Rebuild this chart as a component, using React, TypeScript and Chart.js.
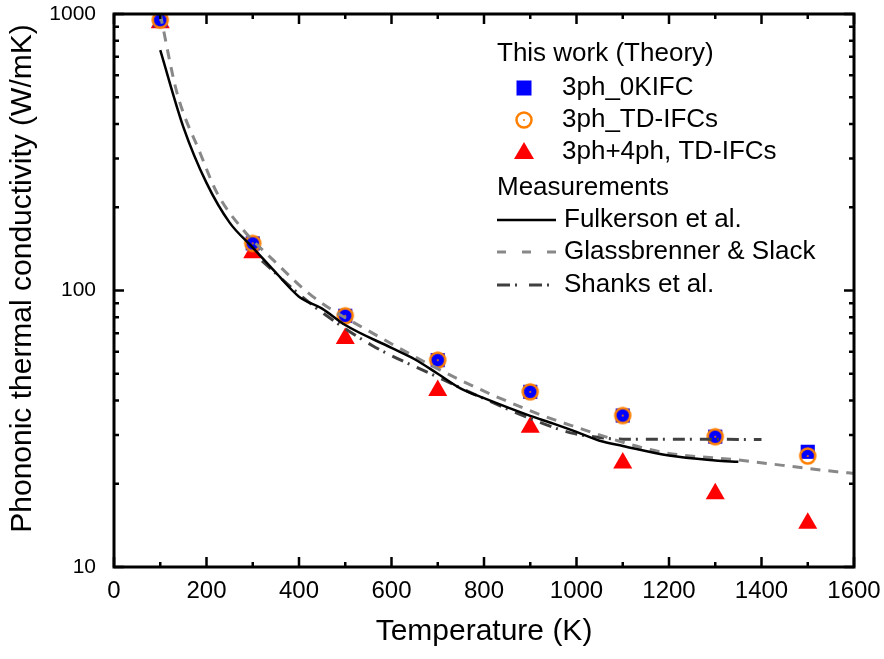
import React, { useEffect, useRef } from 'react';
import { Chart, registerables } from 'chart.js';

Chart.register(...registerables);

// ---- data ----
const temps = [100, 300, 500, 700, 900, 1100, 1300, 1500];
const k3ph0K = [950, 148, 81, 56, 43, 35.3, 29.6, 26.1];
const k3phTD = [950, 148, 81, 56, 43, 35.3, 29.6, 25.2];
const k34phTD = [930, 137, 67, 43.5, 32, 23.8, 18.4, 14.4];

const fulkT = [100, 150, 200, 250, 300, 350, 400, 450, 500, 600, 650, 700, 750, 800, 900, 950, 1000, 1050, 1100, 1200, 1300, 1350];
const fulkK = [740, 390, 245, 176, 143, 116, 95, 86, 75, 62, 56.4, 50, 44.2, 40.8, 35.2, 33, 30.8, 28.6, 27.4, 25.3, 24.3, 24];

const glassT = [100, 136, 186, 223, 279, 344, 430, 560, 748, 906, 986, 1181, 1347, 1563, 1600];
const glassK = [1000, 520, 315, 225, 166, 129, 95, 70, 47.5, 36.4, 32.6, 26.1, 24.4, 22.1, 21.8];

const shanksT = [320, 400, 460, 560, 690, 806, 928, 990, 1050, 1100, 1250, 1400];
const shanksK = [128, 97, 81, 63, 49.5, 40.2, 33, 30.5, 29.4, 29, 29, 28.9];

const xTicks = [0, 200, 400, 600, 800, 1000, 1200, 1400, 1600];
const yTicks = [10, 100, 1000];

const legendHeaderTheory = 'This work (Theory)';
const legendHeaderMeas = 'Measurements';
const xTitle = 'Temperature (K)';
const yTitle = 'Phononic thermal conductivity (W/mK)';

const FONT = '"Liberation Sans", Arial, sans-serif';

function makeCirclePoint(): HTMLCanvasElement {
  const c = document.createElement('canvas');
  c.width = 20;
  c.height = 20;
  const g = c.getContext('2d')!;
  g.strokeStyle = '#FF8000';
  g.lineWidth = 2.5;
  g.beginPath();
  g.arc(10, 10, 7.5, 0, Math.PI * 2);
  g.stroke();
  g.fillStyle = '#FF8000';
  g.beginPath();
  g.arc(10, 10, 1, 0, Math.PI * 2);
  g.fill();
  return c;
}

const frameTicks = {
  id: 'frameTicks',
  afterDatasetsDraw(chart: any) {
    const { ctx, chartArea: a, scales } = chart;
    const x = scales.x;
    const y = scales.y;
    ctx.save();
    ctx.strokeStyle = '#000';
    ctx.lineWidth = 2.5;
    ctx.beginPath();
    for (let i = 0; i < xTicks.length; i++) {
      const v = xTicks[i];
      const px = x.getPixelForValue(v);
      ctx.moveTo(px, a.bottom);
      ctx.lineTo(px, a.bottom - 10);
      ctx.moveTo(px, a.top);
      ctx.lineTo(px, a.top + 10);
      if (i < xTicks.length - 1) {
        const m = x.getPixelForValue((v + xTicks[i + 1]) / 2);
        ctx.moveTo(m, a.bottom);
        ctx.lineTo(m, a.bottom - 5);
        ctx.moveTo(m, a.top);
        ctx.lineTo(m, a.top + 5);
      }
    }
    for (let i = 0; i < yTicks.length; i++) {
      const v = yTicks[i];
      const py = y.getPixelForValue(v);
      ctx.moveTo(a.left, py);
      ctx.lineTo(a.left + 10, py);
      ctx.moveTo(a.right, py);
      ctx.lineTo(a.right - 10, py);
      if (i < yTicks.length - 1) {
        for (let k = 2; k <= 9; k++) {
          const mp = y.getPixelForValue(v * k);
          ctx.moveTo(a.left, mp);
          ctx.lineTo(a.left + 5, mp);
          ctx.moveTo(a.right, mp);
          ctx.lineTo(a.right - 5, mp);
        }
      }
    }
    ctx.stroke();
    ctx.lineWidth = 3;
    ctx.strokeRect(a.left, a.top, a.right - a.left, a.bottom - a.top);
    ctx.restore();
  },
};

const yTitlePlugin = {
  id: 'yTitlePlugin',
  afterDraw(chart: any) {
    const { ctx, chartArea: a } = chart;
    ctx.save();
    ctx.fillStyle = '#000';
    ctx.font = `30px ${FONT}`;
    ctx.textAlign = 'center';
    ctx.textBaseline = 'middle';
    ctx.translate(22.5, (a.top + a.bottom) / 2 - 12);
    ctx.rotate(-Math.PI / 2);
    ctx.fillText(yTitle, 0, 0);
    ctx.restore();
  },
};

const customLegend = {
  id: 'customLegend',
  afterDraw(chart: any) {
    const { ctx } = chart;
    const ds = chart.data.datasets;
    ctx.save();
    ctx.fillStyle = '#000';
    ctx.font = `26px ${FONT}`;
    ctx.textBaseline = 'middle';
    ctx.textAlign = 'left';
    const hx = 497;
    ctx.fillText(legendHeaderTheory, hx, 54);
    const markerX = 524;
    const textX1 = 562;
    const rows1 = [
      { d: ds[4], y: 88 },
      { d: ds[3], y: 120 },
      { d: ds[5], y: 152 },
    ];
    for (const r of rows1) {
      const d = r.d;
      const style = d.pointStyle;
      if (style === 'rect') {
        ctx.fillStyle = d.backgroundColor;
        ctx.fillRect(markerX - 7.5, r.y - 7.5, 15, 15);
      } else if (style === 'triangle') {
        ctx.fillStyle = d.backgroundColor;
        ctx.beginPath();
        ctx.moveTo(markerX, r.y - 10);
        ctx.lineTo(markerX + 10, r.y + 7);
        ctx.lineTo(markerX - 10, r.y + 7);
        ctx.closePath();
        ctx.fill();
      } else if (style instanceof HTMLCanvasElement) {
        ctx.drawImage(style, markerX - style.width / 2, r.y - style.height / 2);
      }
      ctx.fillStyle = '#000';
      ctx.fillText(d.label, textX1, r.y);
    }
    ctx.fillText(legendHeaderMeas, hx, 188);
    const rows2 = [
      { d: ds[0], y: 220, dash: [] as number[] },
      { d: ds[1], y: 252, dash: [9, 16] },
      { d: ds[2], y: 285, dash: [13, 5, 2, 12] },
    ];
    for (const r of rows2) {
      const d = r.d;
      ctx.strokeStyle = d.borderColor;
      ctx.lineWidth = d.borderWidth;
      ctx.setLineDash(r.dash);
      ctx.beginPath();
      ctx.moveTo(497, r.y);
      ctx.lineTo(556, r.y);
      ctx.stroke();
      ctx.setLineDash([]);
      ctx.fillStyle = '#000';
      ctx.fillText(d.label, 564, r.y);
    }
    ctx.restore();
  },
};

export default function App() {
  const ref = useRef<HTMLCanvasElement | null>(null);
  useEffect(() => {
    document.body.style.margin = '0';
    const canvas = ref.current!;
    const circle = makeCirclePoint();
    const toXY = (xs: number[], ys: number[]) => xs.map((v, i) => ({ x: v, y: ys[i] }));
    const chart = new Chart(canvas, {
      type: 'scatter',
      data: {
        datasets: [
          {
            label: 'Fulkerson et al.',
            data: toXY(fulkT, fulkK),
            showLine: true,
            borderColor: '#000000',
            borderWidth: 2.5,
            pointRadius: 0,
            cubicInterpolationMode: 'monotone',
            clip: 0,
            order: 0,
          },
          {
            label: 'Glassbrenner & Slack',
            data: toXY(glassT, glassK),
            showLine: true,
            borderColor: '#888888',
            borderWidth: 3,
            borderDash: [10, 8],
            pointRadius: 0,
            cubicInterpolationMode: 'monotone',
            clip: 0,
            order: 0,
          },
          {
            label: 'Shanks et al.',
            data: toXY(shanksT, shanksK),
            showLine: true,
            borderColor: '#404040',
            borderWidth: 3,
            borderDash: [12, 5, 2, 8],
            pointRadius: 0,
            cubicInterpolationMode: 'monotone',
            clip: 0,
            order: 0,
          },
          {
            label: '3ph_TD-IFCs',
            data: toXY(temps, k3phTD),
            showLine: false,
            pointStyle: circle,
            pointRadius: 8,
            backgroundColor: '#FF8000',
            borderColor: '#FF8000',
            clip: 0,
            order: 1,
          },
          {
            label: '3ph_0KIFC',
            data: toXY(temps, k3ph0K),
            showLine: false,
            pointStyle: 'rect',
            pointRadius: 10,
            backgroundColor: '#0000FF',
            borderColor: '#0000FF',
            borderWidth: 0,
            clip: 0,
            order: 2,
          },
          {
            label: '3ph+4ph, TD-IFCs',
            data: toXY(temps, k34phTD),
            showLine: false,
            pointStyle: 'triangle',
            pointRadius: 11,
            backgroundColor: '#FF0000',
            borderColor: '#FF0000',
            borderWidth: 0,
            clip: 0,
            order: 3,
          },
        ] as any,
      },
      options: {
        animation: false,
        responsive: false,
        devicePixelRatio: 1,
        layout: { padding: { left: 0, top: 14, right: 30, bottom: 0 } },
        plugins: {
          legend: { display: false },
          tooltip: { enabled: false },
        },
        scales: {
          x: {
            type: 'linear',
            min: 0,
            max: 1600,
            afterBuildTicks: (s: any) => {
              s.ticks = xTicks.map((v) => ({ value: v }));
            },
            afterFit: (s: any) => {
              s.height = 92;
              s.paddingLeft = 0;
              s.paddingRight = 0;
            },
            grid: { display: false, drawTicks: false },
            border: { display: false },
            ticks: {
              color: '#000',
              font: { family: FONT, size: 24 },
              padding: 10,
              maxRotation: 0,
              autoSkip: false,
              callback: (v: any) => String(v),
            },
            title: {
              display: true,
              text: xTitle,
              color: '#000',
              font: { family: FONT, size: 30 },
              padding: { top: 0, bottom: 9.5 },
            },
          },
          y: {
            type: 'logarithmic',
            min: 10,
            max: 1000,
            afterBuildTicks: (s: any) => {
              s.ticks = yTicks.map((v) => ({ value: v }));
            },
            afterFit: (s: any) => {
              s.width = 114;
              s.paddingTop = 0;
              s.paddingBottom = 0;
            },
            grid: { display: false, drawTicks: false },
            border: { display: false },
            ticks: {
              color: '#000',
              font: { family: FONT, size: 21 },
              padding: 18,
              autoSkip: false,
              callback: (v: any) => String(v),
            },
            title: { display: false },
          },
        },
      } as any,
      plugins: [frameTicks, customLegend, yTitlePlugin],
    });
    return () => chart.destroy();
  }, []);
  return <canvas ref={ref} width={884} height={659} style={{ display: 'block' }} />;
}
